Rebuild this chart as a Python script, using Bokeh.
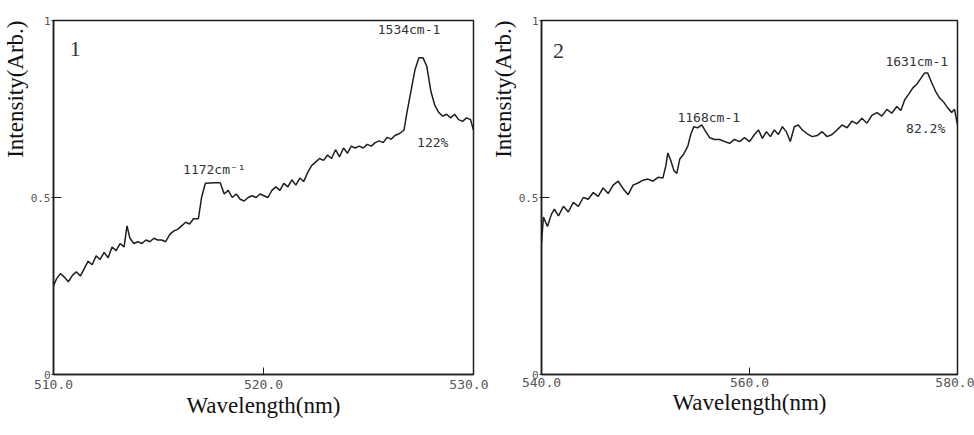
from bokeh.plotting import figure
from bokeh.layouts import row
from bokeh.models import Label, FixedTicker, Title
from bokeh.embed import file_html
from bokeh.resources import INLINE

# ---------------- data ----------------
wl1 = [510.00, 510.14, 510.33, 510.52, 510.71, 510.90, 511.09, 511.28, 511.47, 511.65,
       511.84, 512.03, 512.22, 512.41, 512.60, 512.79, 512.98, 513.17, 513.36, 513.50,
       513.64, 513.83, 514.02, 514.21, 514.40, 514.59, 514.78, 514.96, 515.15, 515.34,
       515.53, 515.72, 515.91, 516.10, 516.29, 516.48, 516.67, 516.90, 517.05, 517.23,
       517.66, 517.94, 518.13, 518.32, 518.51, 518.70, 518.89, 519.08, 519.27, 519.46,
       519.65, 519.83, 520.02, 520.21, 520.40, 520.59, 520.78, 520.97, 521.16, 521.35,
       521.54, 521.73, 521.91, 522.10, 522.29, 522.48, 522.67, 522.86, 523.05, 523.24,
       523.43, 523.62, 523.81, 524.00, 524.18, 524.37, 524.56, 524.75, 524.94, 525.13,
       525.32, 525.51, 525.70, 525.89, 526.08, 526.26, 526.45, 526.69, 526.83, 527.02,
       527.21, 527.40, 527.59, 527.78, 527.97, 528.16, 528.35, 528.53, 528.72, 528.91,
       529.10, 529.29, 529.48, 529.67, 529.86, 530.00]
int1 = [0.25, 0.27, 0.285, 0.275, 0.262, 0.28, 0.29, 0.278, 0.30, 0.32,
        0.31, 0.335, 0.325, 0.345, 0.33, 0.36, 0.35, 0.37, 0.36, 0.42,
        0.385, 0.37, 0.375, 0.37, 0.38, 0.375, 0.385, 0.38, 0.38, 0.375,
        0.395, 0.405, 0.41, 0.42, 0.43, 0.425, 0.44, 0.44, 0.50, 0.54,
        0.542, 0.542, 0.51, 0.52, 0.50, 0.51, 0.495, 0.49, 0.50, 0.505,
        0.50, 0.51, 0.505, 0.50, 0.52, 0.53, 0.52, 0.54, 0.53, 0.55,
        0.535, 0.555, 0.545, 0.57, 0.59, 0.60, 0.61, 0.605, 0.62, 0.61,
        0.635, 0.615, 0.64, 0.625, 0.645, 0.64, 0.645, 0.64, 0.65, 0.645,
        0.655, 0.66, 0.655, 0.67, 0.665, 0.675, 0.68, 0.69, 0.74, 0.80,
        0.86, 0.895, 0.895, 0.87, 0.80, 0.76, 0.74, 0.73, 0.735, 0.725,
        0.735, 0.72, 0.715, 0.725, 0.72, 0.69]

wl2 = [540.00, 540.19, 540.57, 540.96, 541.24, 541.63, 542.11, 542.58, 543.06, 543.54,
       544.02, 544.50, 544.98, 545.45, 545.93, 546.41, 546.89, 547.37, 547.85, 548.33,
       548.80, 549.28, 549.76, 550.24, 550.72, 551.20, 551.67, 551.96, 552.15, 552.44,
       552.73, 553.01, 553.30, 553.68, 554.07, 554.35, 554.64, 555.02, 555.41, 555.79,
       556.17, 556.65, 557.13, 557.61, 558.09, 558.56, 559.04, 559.52, 560.00, 560.48,
       560.86, 561.24, 561.63, 562.01, 562.39, 562.78, 563.16, 563.54, 563.92, 564.31,
       564.69, 565.07, 565.55, 566.03, 566.51, 566.99, 567.46, 567.94, 568.42, 568.90,
       569.38, 569.86, 570.33, 570.81, 571.29, 571.77, 572.25, 572.73, 573.21, 573.68,
       574.16, 574.55, 574.93, 575.31, 575.69, 576.08, 576.46, 576.84, 577.13, 577.51,
       577.89, 578.28, 578.66, 579.04, 579.43, 579.71, 580.00]
int2 = [0.372, 0.445, 0.418, 0.453, 0.467, 0.448, 0.475, 0.459, 0.486, 0.475,
        0.50, 0.495, 0.514, 0.503, 0.527, 0.511, 0.535, 0.546, 0.525, 0.508,
        0.535, 0.541, 0.549, 0.552, 0.546, 0.557, 0.555, 0.59, 0.626, 0.604,
        0.576, 0.568, 0.609, 0.623, 0.645, 0.678, 0.70, 0.697, 0.705, 0.686,
        0.669, 0.664, 0.664, 0.658, 0.653, 0.664, 0.658, 0.669, 0.658, 0.678,
        0.691, 0.667, 0.686, 0.672, 0.691, 0.678, 0.70, 0.686, 0.658, 0.70,
        0.705, 0.691, 0.68, 0.672, 0.675, 0.686, 0.672, 0.678, 0.691, 0.705,
        0.697, 0.716, 0.708, 0.724, 0.71, 0.732, 0.74, 0.73, 0.749, 0.738,
        0.757, 0.746, 0.776, 0.792, 0.809, 0.82, 0.836, 0.852, 0.852, 0.825,
        0.80, 0.781, 0.77, 0.754, 0.74, 0.749, 0.705]

x_ticks1 = [510, 520, 530]
x_labels1 = ["510.0", "520.0", "530.0"]
x_ticks2 = [540, 560, 580]
x_labels2 = ["540.0", "560.0", "580.0"]
y_ticks = [0, 0.5, 1]
y_labels = ["0", "0.5", "1"]

x_title = "Wavelength(nm)"
y_title = "Intensity(Arb.)"

# annotations: (text, x, y, size)
notes1 = [("1", 511.04, 0.919, "22px"),
          ("1534cm-1", 526.93, 0.975, "13px"),
          ("122%", 528.06, 0.654, "13px"),
          ("1172cm⁻¹", 517.66, 0.578, "13px")]
notes2 = [("2", 541.63, 0.913, "22px"),
          ("1631cm-1", 576.08, 0.885, "13px"),
          ("82.2%", 576.94, 0.694, "13px"),
          ("1168cm-1", 556.08, 0.727, "13px")]

INK = "#1e1e1e"
TICKFONT = "DejaVu Sans Mono"
SERIF = "Liberation Serif"


def make_panel(wl, inten, xr, xticks, xlabels, notes, width, height,
               bl, br, bt, bb, lab_standoff, title_standoff):
    p = figure(width=width, height=height, x_range=xr, y_range=(0, 1),
               output_backend="svg", toolbar_location=None,
               min_border_left=bl, min_border_right=br,
               min_border_top=bt, min_border_bottom=bb)
    p.background_fill_color = "white"
    p.border_fill_color = "white"
    p.outline_line_color = INK
    p.outline_line_width = 1.5
    p.xgrid.visible = False
    p.ygrid.visible = False

    p.line(wl, inten, line_color=INK, line_width=1.5)

    xa = p.xaxis[0]
    xa.ticker = FixedTicker(ticks=xticks)
    xa.major_label_overrides = {t: l for t, l in zip(xticks, xlabels)}
    xa.minor_tick_line_color = None
    xa.major_tick_in = 7
    xa.major_tick_out = 0
    xa.axis_line_color = INK
    xa.axis_line_width = 1.5
    xa.major_tick_line_color = INK
    xa.major_label_text_font = TICKFONT
    xa.major_label_text_font_size = "13px"
    xa.major_label_text_color = "#555555"
    xa.major_label_standoff = lab_standoff
    xa.axis_label = x_title
    xa.axis_label_text_font = SERIF
    xa.axis_label_text_font_style = "normal"
    xa.axis_label_text_font_size = "23px"
    xa.axis_label_text_color = "#111111"
    xa.axis_label_standoff = title_standoff

    ya = p.yaxis[0]
    ya.ticker = FixedTicker(ticks=y_ticks)
    ya.major_label_overrides = {t: l for t, l in zip(y_ticks, y_labels)}
    ya.minor_tick_line_color = None
    ya.major_tick_in = 8
    ya.major_tick_out = 2
    ya.axis_line_color = INK
    ya.axis_line_width = 1.5
    ya.major_tick_line_color = INK
    ya.major_label_text_font = TICKFONT
    ya.major_label_text_font_size = "11px"
    ya.major_label_text_color = "#555555"
    ya.major_label_standoff = 1

    p.add_layout(Title(text=y_title, align="right", text_font=SERIF,
                       text_font_size="23px", text_font_style="normal",
                       text_color="#111111", standoff=0, offset=0), "left")

    for txt, x, y, size in notes:
        p.add_layout(Label(x=x, y=y, text=txt, text_align="center",
                           text_baseline="middle",
                           text_font=SERIF if size == "22px" else TICKFONT,
                           text_font_size=size, text_color="#333333"))
    return p


p1 = make_panel(wl1, int1, (510, 530), x_ticks1, x_labels1, notes1,
                488, 435, 50, 15, 16, 61, 5, 1)
p2 = make_panel(wl2, int2, (540, 580), x_ticks2, x_labels2, notes2,
                486, 435, 51, 17, 20, 49, 3, 0)

layout = row(p1, p2, spacing=0)
open("out.html", "w").write(file_html(layout, INLINE))
